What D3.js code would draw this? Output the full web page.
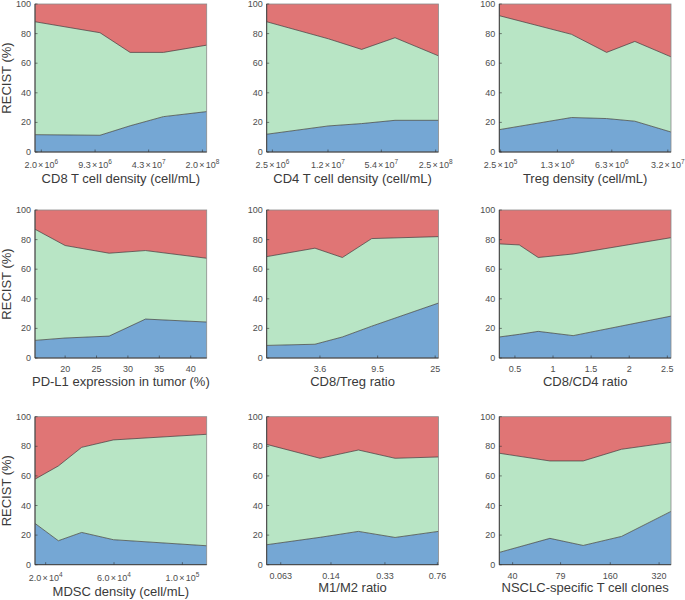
<!DOCTYPE html>
<html><head><meta charset="utf-8">
<script src="https://cdn.jsdelivr.net/npm/d3@7"></script>
<style>body{margin:0;background:#fff;} text{font-family:"Liberation Sans",Arial,Helvetica,sans-serif;}</style>
</head><body><svg id="c" width="685" height="600"></svg>
<script>
// ---- data (percent of patients per RECIST category, 5 bins per biomarker) ----
const cd8X = [1.67e6, 1.07e7, 2.53e7, 6.56e7, 2.26e8];
const cd8Blue = [11.7, 11.3, 17.7, 23.9, 27.3];
const cd8Green = [76.3, 69.3, 49.6, 43.4, 44.9];
const cd8Red = [12.0, 19.4, 32.7, 32.7, 27.8];
const cd8Ticks = [2.0e6, 9.3e6, 4.3e7, 2.0e8];

const cd4X = [2.13e6, 1.21e7, 3.10e7, 7.94e7, 2.70e8];
const cd4Blue = [12.0, 17.6, 19.2, 21.4, 21.4];
const cd4Green = [76.0, 58.9, 50.1, 55.8, 43.6];
const cd4Red = [12.0, 23.5, 30.7, 22.8, 35.0];
const cd4Ticks = [2.5e6, 1.2e7, 5.4e7, 2.5e8];

const tregX = [2.41e5, 1.96e6, 5.42e6, 1.23e7, 3.51e7];
const tregBlue = [15.1, 23.3, 22.6, 20.8, 13.5];
const tregGreen = [77.0, 56.2, 44.7, 53.9, 50.8];
const tregRed = [7.9, 20.5, 32.7, 25.3, 35.7];
const tregTicks = [2.5e5, 1.3e6, 6.3e6, 3.2e7];

const pdl1X = [15.2, 20.0, 27.0, 32.8, 42.55];
const pdl1Blue = [11.9, 13.5, 14.8, 26.3, 24.3];
const pdl1Green = [75.1, 62.5, 56.0, 46.3, 43.1];
const pdl1Red = [13.0, 24.0, 29.2, 27.4, 32.6];
const pdl1Ticks = [20, 25, 30, 35, 40];

const cd8TregX = [1.47, 3.31, 5.25, 8.60, 26.4];
const cd8TregBlue = [8.5, 9.3, 14.2, 21.5, 37.1];
const cd8TregGreen = [60.0, 64.9, 53.7, 59.2, 44.9];
const cd8TregRed = [31.5, 25.8, 32.1, 19.3, 18.0];
const cd8TregTicks = [3.6, 9.5, 25];

const cd8Cd4X = [0.295, 0.557, 0.806, 1.264, 2.548];
const cd8Cd4Blue = [14.2, 16.0, 18.0, 15.1, 28.3];
const cd8Cd4Green = [62.9, 60.4, 49.9, 55.2, 53.0];
const cd8Cd4Red = [22.9, 23.6, 32.1, 29.7, 18.7];
const cd8Cd4Ticks = [0.5, 1, 1.5, 2, 2.5];

const mdscX = [13760, 27420, 41080, 59610, 114240];
const mdscBlue = [27.9, 16.2, 21.8, 16.9, 12.8];
const mdscGreen = [29.9, 50.5, 57.5, 67.4, 75.3];
const mdscRed = [42.2, 33.3, 20.7, 15.7, 11.9];
const mdscTicks = [2.0e4, 6.0e4, 1.0e5];

const m1m2X = [0.0504, 0.1177, 0.2165, 0.3878, 0.772];
const m1m2Blue = [13.5, 18.5, 22.5, 18.4, 22.5];
const m1m2Green = [67.8, 53.4, 55.0, 53.5, 50.3];
const m1m2Red = [18.7, 28.1, 22.5, 28.1, 27.2];
const m1m2Ticks = [0.063, 0.14, 0.33, 0.76];

const cloneX = [33.1, 67.9, 108.9, 187.7, 379];
const cloneBlue = [8.3, 17.8, 13.0, 19.1, 36.0];
const cloneGreen = [67.0, 52.3, 57.1, 58.9, 46.7];
const cloneRed = [24.7, 29.9, 29.9, 22.0, 17.3];
const cloneTicks = [40, 79, 160, 320];

const yTicks = [0, 20, 40, 60, 80, 100];
const yTitle = "RECIST (%)";

const panels = [
  {x: cd8X, b: cd8Blue, g: cd8Green, r: cd8Red, ticks: cd8Ticks, log: true, sci: true, title: "CD8 T cell density (cell/mL)"},
  {x: cd4X, b: cd4Blue, g: cd4Green, r: cd4Red, ticks: cd4Ticks, log: true, sci: true, title: "CD4 T cell density (cell/mL)"},
  {x: tregX, b: tregBlue, g: tregGreen, r: tregRed, ticks: tregTicks, log: true, sci: true, title: "Treg density (cell/mL)"},
  {x: pdl1X, b: pdl1Blue, g: pdl1Green, r: pdl1Red, ticks: pdl1Ticks, log: false, sci: false, title: "PD-L1 expression in tumor (%)"},
  {x: cd8TregX, b: cd8TregBlue, g: cd8TregGreen, r: cd8TregRed, ticks: cd8TregTicks, log: true, sci: false, title: "CD8/Treg ratio"},
  {x: cd8Cd4X, b: cd8Cd4Blue, g: cd8Cd4Green, r: cd8Cd4Red, ticks: cd8Cd4Ticks, log: false, sci: false, title: "CD8/CD4 ratio"},
  {x: mdscX, b: mdscBlue, g: mdscGreen, r: mdscRed, ticks: mdscTicks, log: false, sci: true, title: "MDSC density (cell/mL)"},
  {x: m1m2X, b: m1m2Blue, g: m1m2Green, r: m1m2Red, ticks: m1m2Ticks, log: true, sci: false, title: "M1/M2 ratio"},
  {x: cloneX, b: cloneBlue, g: cloneGreen, r: cloneRed, ticks: cloneTicks, log: true, sci: false, title: "NSCLC-specific T cell clones"}
];

const colors = {b: "#75a7d4", g: "#b8e5c5", r: "#e07575"};
const colX = [35, 266.7, 499.3];
const rowY = [4, 210, 416.7];
const W = 171.7, H = 148;

const svg = d3.select("#c");

panels.forEach((p, i) => {
  const col = i % 3, row = Math.floor(i / 3);
  const g = svg.append("g").attr("transform", `translate(${colX[col]},${rowY[row]})`);
  const x = (p.log ? d3.scaleLog() : d3.scaleLinear()).domain([p.x[0], p.x[p.x.length - 1]]).range([0, W]);
  const y = d3.scaleLinear().domain([0, 100]).range([H, 0]);
  const rows = p.x.map((v, k) => ({x: v, b: p.b[k], g: p.g[k], r: p.r[k]}));
  const stack = d3.stack().keys(["b", "g", "r"])(rows);
  const area = d3.area().x(d => x(d.data.x)).y0(d => y(d[0])).y1(d => y(Math.min(100, d[1])));
  g.selectAll("path.area").data(stack).join("path").attr("class", "area")
    .attr("d", area).attr("fill", d => colors[d.key]).attr("stroke", "none");
  const line = d3.line().x(d => x(d.data.x)).y(d => y(d[1]));
  g.selectAll("path.bound").data(stack.slice(0, 2)).join("path").attr("class", "bound")
    .attr("d", line).attr("fill", "none").attr("stroke", "#3a3a3a").attr("stroke-width", 0.7);

  // frame
  g.append("rect").attr("x", 0).attr("y", 0).attr("width", W).attr("height", H)
    .attr("fill", "none").attr("stroke", "#8a8a8a").attr("stroke-width", 0.8);

  // y axis
  const ya = g.append("g");
  ya.append("line").attr("x1", 0).attr("x2", 0).attr("y1", 0).attr("y2", H).attr("stroke", "#333").attr("stroke-width", 0.9);
  yTicks.forEach(t => {
    ya.append("line").attr("x1", 0).attr("x2", 2.5).attr("y1", y(t)).attr("y2", y(t)).attr("stroke", "#333").attr("stroke-width", 0.6);
    ya.append("text").attr("x", -4).attr("y", y(t)).attr("dy", "0.34em").attr("text-anchor", "end")
      .attr("font-size", 9).attr("fill", "#4d4d4d").text(t);
  });

  // x axis
  const xa = g.append("g").attr("transform", `translate(0,${H})`);
  xa.append("line").attr("x1", 0).attr("x2", W).attr("stroke", "#333").attr("stroke-width", 0.9);
  p.ticks.forEach(t => {
    const px = x(t);
    xa.append("line").attr("x1", px).attr("x2", px).attr("y1", 0).attr("y2", -2.5).attr("stroke", "#333").attr("stroke-width", 0.6);
    const tx = xa.append("text").attr("x", px).attr("y", p.sci ? 16 : 14).attr("text-anchor", "middle")
      .attr("font-size", 9).attr("fill", "#4d4d4d");
    if (p.sci) {
      const e = Math.floor(Math.log10(t) + 1e-9);
      const m = (t / Math.pow(10, e)).toFixed(1);
      tx.append("tspan").text(m);
      tx.append("tspan").attr("dx", 1.2).text("\u00d7");
      tx.append("tspan").attr("dx", 1.2).text("10");
      tx.append("tspan").attr("dy", -4).attr("font-size", 6.5).text(e);
    } else {
      tx.text(t);
    }
  });
  xa.append("text").attr("x", W / 2).attr("y", p.sci ? 31 : 27.5).attr("text-anchor", "middle")
    .attr("font-size", 13).attr("fill", "#3a3a3a").text(p.title);

  if (col === 0) {
    g.append("text").attr("transform", `translate(-24,${H / 2}) rotate(-90)`).attr("text-anchor", "middle")
      .attr("font-size", 13).attr("fill", "#3a3a3a").text(yTitle);
  }
});
</script>
</body></html>
